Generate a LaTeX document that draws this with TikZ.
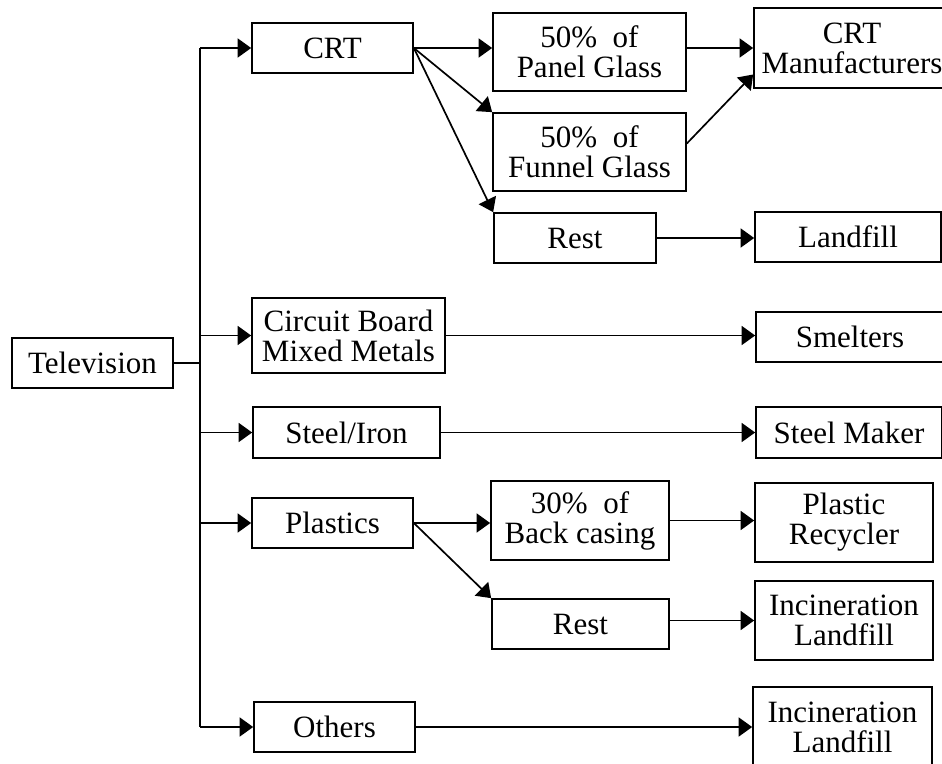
\documentclass[tikz,border=0pt]{standalone}
\usepackage{fontspec}
\setmainfont{Liberation Serif}
\usetikzlibrary{arrows.meta}
\begin{document}
\begin{tikzpicture}[x=1pt,y=-1pt,
  box/.style={draw, line width=1.7pt, inner sep=0pt, align=center,
    font=\fontsize{31}{30}\selectfont},
  link/.style={line width=1.7pt},
  arr/.style={link, -{Triangle[length=13.5pt,width=19pt]}}]
\useasboundingbox (0,0) rectangle (942,763);

% source and first-level fractions
\node[box, minimum width=161pt, minimum height=50pt] (tv) at (92.5,363) {Television};
\node[box, minimum width=161pt, minimum height=50pt] (crt) at (332.5,48) {CRT};
\node[box, minimum width=193pt, minimum height=75pt] (cb) at (348.5,335.5) {Circuit Board\\Mixed Metals};
\node[box, minimum width=187pt, minimum height=51pt] (steel) at (346.5,432.5) {Steel/Iron};
\node[box, minimum width=161pt, minimum height=50pt] (plast) at (332.5,523) {Plastics};
\node[box, minimum width=161pt, minimum height=50pt] (others) at (334.5,727) {Others};

% second-level splits
\node[box, minimum width=193pt, minimum height=78pt] (panel) at (589.5,52) {50\%\ \ of\\Panel Glass};
\node[box, minimum width=193pt, minimum height=78pt] (funnel) at (589.5,152) {50\%\ \ of\\Funnel Glass};
\node[box, minimum width=162pt, minimum height=50pt] (rest1) at (575,238) {Rest};
\node[box, minimum width=178pt, minimum height=79pt] (back) at (580,520.5) {30\%\ \ of\\Back casing};
\node[box, minimum width=177pt, minimum height=50pt] (rest2) at (580.5,624) {Rest};

% destinations
\node[box, minimum width=196pt, minimum height=80pt] (crtm) at (852,48) {CRT\\Manufacturers};
\node[box, minimum width=186pt, minimum height=50pt] (landfill) at (848,237) {Landfill};
\node[box, minimum width=188pt, minimum height=50pt] (smelt) at (850,337) {Smelters};
\node[box, minimum width=186pt, minimum height=51pt] (steelmaker) at (849,432.5) {Steel Maker};
\node[box, minimum width=178pt, minimum height=79pt] (recyc) at (844,522.5) {Plastic\\Recycler};
\node[box, minimum width=178pt, minimum height=79pt] (incin1) at (844,620.5) {Incineration\\Landfill};
\node[box, minimum width=179pt, minimum height=80pt] (incin2) at (842.5,727) {Incineration\\Landfill};

% distribution bus
\coordinate (bus) at (200,0);
\draw[link] (bus |- crt.west) -- (bus |- others.west);
\draw[link] (tv.east) -- (bus |- tv.east);
\foreach \n in {crt,cb,steel,plast,others}
  \draw[arr] (bus |- \n.west) -- (\n.west);

% CRT branch
\draw[arr] (crt.east) -- (crt.east -| panel.west);
\draw[arr] (crt.east) -- (funnel.north west);
\draw[arr] (crt.east) -- (rest1.north west);
\draw[arr] (crtm.west -| panel.east) -- (crtm.west);
\draw[arr] (funnel.5) -- (crtm.195);
\draw[arr] (rest1.east) -- (rest1.east -| landfill.west);

% metals
\draw[arr] (cb.east) -- (cb.east -| smelt.west);
\draw[arr] (steel.east) -- (steel.east -| steelmaker.west);

% plastics branch
\draw[arr] (plast.east) -- (plast.east -| back.west);
\draw[arr] (plast.east) -- (rest2.north west);
\draw[arr] (back.east) -- (back.east -| recyc.west);
\draw[arr] (incin1.west -| rest2.east) -- (incin1.west);

% others
\draw[arr] (others.east) -- (others.east -| incin2.west);
\end{tikzpicture}
\end{document}
